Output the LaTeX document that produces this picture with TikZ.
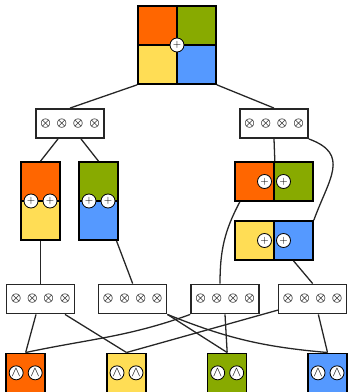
\documentclass[tikz,border=0pt]{standalone}
\usepackage{amsmath}
\usepackage{amssymb}
\usepackage{tikz}
\usetikzlibrary{positioning}
\definecolor{sumorange}{RGB}{255,102,0}
\definecolor{sumgreen}{RGB}{136,170,0}
\definecolor{sumyellow}{RGB}{255,221,85}
\definecolor{sumblue}{RGB}{85,153,255}

\begin{document}
\begin{tikzpicture}[
    cell/.style={rectangle, draw=black, line width=1.4pt, minimum width=1.17cm, minimum height=1.17cm, inner sep=0pt},
    prod/.style={rectangle, draw=black!85, line width=1.3pt, fill=white, minimum width=2.04cm, minimum height=0.88cm, inner sep=0pt, font=\normalsize},
    plus/.style={circle, draw=black, fill=white, line width=0.7pt, minimum size=0.42cm, inner sep=0pt, font=\small},
    andop/.style={plus, font=\large},
    link/.style={line width=1.1pt, black!85}
]
\useasboundingbox (0,0) rectangle (10.41,-11.76);

% ============ root sum ============
\node[cell, fill=sumorange] (top-o) at (4.725,-0.765) {};
\node[cell, fill=sumgreen]  (top-g) at (5.895,-0.765) {};
\node[cell, fill=sumyellow] (top-y) at (4.725,-1.935) {};
\node[cell, fill=sumblue]   (top-b) at (5.895,-1.935) {};
\node[plus] (plus-top) at (5.31,-1.35) {$+$};

% ============ products, level 1 ============
\node[prod] (prod-l) at (2.10,-3.705) {$\boldsymbol{\otimes}$\hspace{5pt}$\boldsymbol{\otimes}$\hspace{5pt}$\boldsymbol{\otimes}$\hspace{5pt}$\boldsymbol{\otimes}$};
\node[prod] (prod-r) at (8.22,-3.705) {$\boldsymbol{\otimes}$\hspace{5pt}$\boldsymbol{\otimes}$\hspace{5pt}$\boldsymbol{\otimes}$\hspace{5pt}$\boldsymbol{\otimes}$};

% ============ sums, left ============
\node[cell, fill=sumorange] (sum-lo) at (1.215,-5.445) {};
\node[cell, fill=sumyellow] (sum-ly) at (1.215,-6.615) {};
\node[cell, fill=sumgreen]  (sum-lg) at (2.955,-5.445) {};
\node[cell, fill=sumblue]   (sum-lb) at (2.955,-6.615) {};
\node[plus] (plus-lo1) at (0.93,-6.03) {$+$};
\node[plus] (plus-lo2) at (1.50,-6.03) {$+$};
\node[plus] (plus-lg1) at (2.67,-6.03) {$+$};
\node[plus] (plus-lg2) at (3.24,-6.03) {$+$};

% ============ sums, right ============
\node[cell, fill=sumorange] (sum-ro) at (7.635,-5.445) {};
\node[cell, fill=sumgreen]  (sum-rg) at (8.805,-5.445) {};
\node[cell, fill=sumyellow] (sum-ry) at (7.635,-7.215) {};
\node[cell, fill=sumblue]   (sum-rb) at (8.805,-7.215) {};
\node[plus] (plus-r1) at (7.935,-5.445) {$+$};
\node[plus] (plus-r2) at (8.505,-5.445) {$+$};
\node[plus] (plus-r3) at (7.935,-7.215) {$+$};
\node[plus] (plus-r4) at (8.505,-7.215) {$+$};

% ============ products, level 2 ============
\node[prod] (p1) at (1.215,-8.97) {$\boldsymbol{\otimes}$\hspace{5pt}$\boldsymbol{\otimes}$\hspace{5pt}$\boldsymbol{\otimes}$\hspace{5pt}$\boldsymbol{\otimes}$};
\node[prod] (p2) at (3.98,-8.97)  {$\boldsymbol{\otimes}$\hspace{5pt}$\boldsymbol{\otimes}$\hspace{5pt}$\boldsymbol{\otimes}$\hspace{5pt}$\boldsymbol{\otimes}$};
\node[prod] (p3) at (6.75,-8.97)  {$\boldsymbol{\otimes}$\hspace{5pt}$\boldsymbol{\otimes}$\hspace{5pt}$\boldsymbol{\otimes}$\hspace{5pt}$\boldsymbol{\otimes}$};
\node[prod] (p4) at (9.38,-8.97)  {$\boldsymbol{\otimes}$\hspace{5pt}$\boldsymbol{\otimes}$\hspace{5pt}$\boldsymbol{\otimes}$\hspace{5pt}$\boldsymbol{\otimes}$};

% ============ leaves ============
\node[cell, fill=sumorange] (leaf-o) at (0.77,-11.185) {};
\node[cell, fill=sumyellow] (leaf-y) at (3.795,-11.185) {};
\node[cell, fill=sumgreen]  (leaf-g) at (6.815,-11.185) {};
\node[cell, fill=sumblue]   (leaf-b) at (9.825,-11.185) {};
\node[andop] (and-o1) at (0.485,-11.185) {$\wedge$};
\node[andop] (and-o2) at (1.055,-11.185) {$\wedge$};
\node[andop] (and-y1) at (3.51,-11.185) {$\wedge$};
\node[andop] (and-y2) at (4.08,-11.185) {$\wedge$};
\node[andop] (and-g1) at (6.53,-11.185) {$\wedge$};
\node[andop] (and-g2) at (7.10,-11.185) {$\wedge$};
\node[andop] (and-b1) at (9.54,-11.185) {$\wedge$};
\node[andop] (and-b2) at (10.11,-11.185) {$\wedge$};

% ============ edges ============
\draw[link] (top-y.south west) -- (prod-l.north);
\draw[link] (top-b.south east) -- (prod-r.north);
\draw[link] ([xshift=-0.36cm]prod-l.south) -- (sum-lo.north);
\draw[link] ([xshift=0.33cm]prod-l.south) -- (sum-lg.north);
\draw[link] (prod-r.south) -- (sum-ro.north east);
\draw[link] (prod-r.south east) to[out=-20,in=70,looseness=1.4] (sum-rb.north east);
\draw[link] ([xshift=0.17cm]sum-ro.south west) to[out=-118,in=90] ([xshift=-0.15cm]p3.north);
\draw[link] (sum-rb.south) -- (p4.north);
\draw[link] (sum-ly.south) -- (p1.north);
\draw[link] ([xshift=-0.07cm]sum-lb.south east) -- (p2.north);

\draw[link] ([xshift=-0.135cm]p1.south) -- (leaf-o.north);
\draw[link] ([xshift=0.735cm]p1.south) -- (leaf-y.north);
\draw[link] (p2.south east) -- (leaf-g.north);
\draw[link] (p2.south east) to[out=-22,in=175] (leaf-b.north);
\draw[link] (p3.south west) to[out=-160,in=12] (leaf-o.north);
\draw[link] (p3.south) -- (leaf-g.north);
\draw[link] ([yshift=0.13cm]p4.south west) -- (leaf-y.north);
\draw[link] ([xshift=0.17cm]p4.south) -- (leaf-b.north);

\end{tikzpicture}
\end{document}
